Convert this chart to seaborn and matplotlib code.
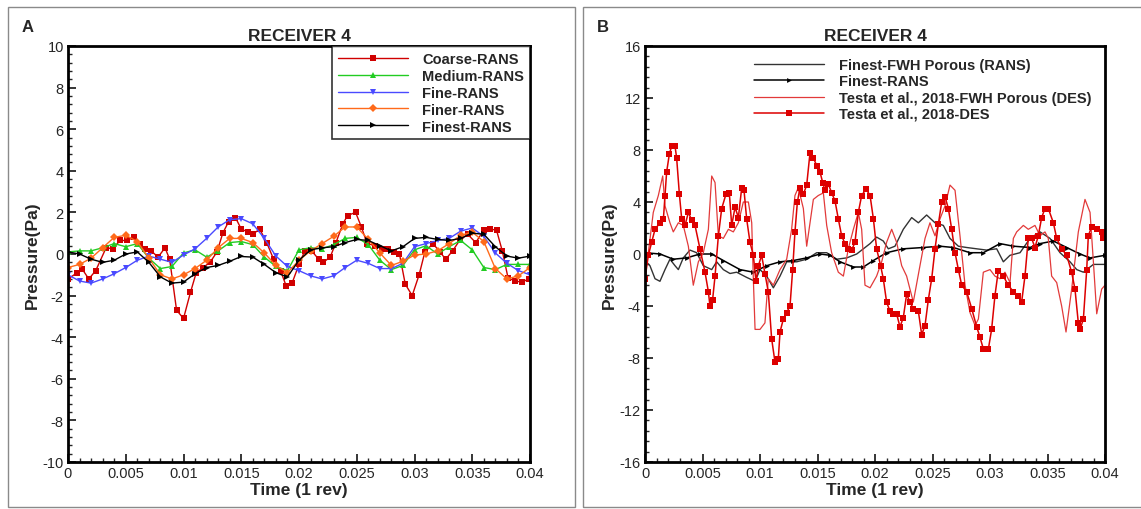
import numpy as np
import pandas as pd
import matplotlib
matplotlib.use("Agg")
import matplotlib.pyplot as plt
import seaborn as sns
from matplotlib.patches import Rectangle
from matplotlib.ticker import MultipleLocator

sns.set_style("ticks")
plt.rcParams['font.family'] = ['Liberation Sans', 'DejaVu Sans']
plt.rcParams['axes.unicode_minus'] = False

# ---------------- Panel A data (time grid in ms, 0..40) ----------------
t_grid_ms = [0, 1, 2, 3, 4, 5, 6, 7, 8, 9, 10, 11, 12, 13, 14, 15, 16, 17, 18, 19, 20,
             21, 22, 23, 24, 25, 26, 27, 28, 29, 30, 31, 32, 33, 34, 35, 36, 37, 38, 39, 40]

t_coarse_ms = [0, 0.8, 1.2, 1.8, 2.4, 3.3, 3.9, 4.5, 5.1, 5.7, 6.2, 6.7, 7.2, 7.8, 8.4, 8.8, 9.4,
               10.0, 10.6, 11.1, 11.7, 12.3, 12.9, 13.4, 13.9, 14.5, 15.0, 15.6, 16.0, 16.6, 17.2,
               17.8, 18.4, 18.9, 19.4, 20.0, 20.5, 21.1, 21.7, 22.1, 22.7, 23.2, 23.8, 24.2, 24.9,
               25.4, 25.9, 26.6, 27.2, 27.7, 28.2, 28.7, 29.2, 29.8, 30.4, 30.9, 31.6, 32.2, 32.7,
               33.3, 33.9, 34.6, 35.3, 36.0, 36.5, 37.1, 37.6, 38.1, 38.7, 39.3, 39.9]
p_coarse = [-1.2, -0.9, -0.7, -1.2, -0.8, 0.3, 0.25, 0.65, 0.65, 0.8, 0.5, 0.25, 0.15, -0.15, 0.3,
            -0.25, -2.7, -3.1, -1.85, -0.9, -0.65, -0.4, 0.1, 1.0, 1.55, 1.75, 1.2, 1.05, 0.95, 1.2,
            0.55, -0.25, -0.8, -1.55, -1.4, -0.5, 0.15, 0.15, -0.25, -0.4, -0.15, 0.55, 1.45, 1.85,
            2.0, 1.3, 0.5, 0.4, 0.25, 0.25, 0.1, 0.0, -1.45, -2.0, -1.0, 0.1, 0.5, 0.1, -0.25, 0.15,
            0.65, 0.95, 0.55, 1.15, 1.2, 1.15, 0.15, -1.15, -1.3, -1.35, -1.2]

p_medium = [0.1, 0.15, 0.15, 0.3, 0.5, 0.35, 0.5, -0.2, -0.7, -0.6, 0.05, 0.2, -0.15, 0.15, 0.55,
            0.6, 0.45, -0.15, -0.6, -0.8, 0.2, 0.3, 0.25, 0.45, 0.75, 0.8, 0.45, -0.3, -0.75, -0.55,
            0.2, 0.4, 0.0, 0.35, 0.65, 0.2, -0.65, -0.75, -0.5, -0.5, -0.5]

p_fine = [-1.0, -1.3, -1.4, -1.2, -0.95, -0.65, -0.3, -0.1, -0.25, -0.4, -0.05, 0.25, 0.75, 1.3,
          1.65, 1.7, 1.45, 0.75, -0.1, -0.6, -0.8, -1.05, -1.2, -1.05, -0.65, -0.3, -0.45, -0.7,
          -0.7, -0.45, 0.35, 0.5, 0.65, 0.75, 1.1, 1.25, 0.85, 0.05, -0.45, -0.8, -1.0]

p_finer = [-0.65, -0.5, -0.2, 0.3, 0.8, 0.9, 0.6, -0.2, -1.0, -1.2, -1.0, -0.7, -0.3, 0.3, 0.75,
           0.75, 0.55, 0.05, -0.55, -0.9, -0.3, 0.15, 0.5, 0.85, 1.3, 1.3, 0.7, 0.05, -0.55, -0.35,
           -0.05, 0.0, 0.15, 0.5, 0.9, 1.05, 0.6, -0.7, -1.2, -1.05, -0.65]

p_finest = [0.1, 0.0, -0.25, -0.4, -0.3, 0.0, 0.1, -0.4, -1.1, -1.4, -1.35, -0.95, -0.65, -0.55,
            -0.35, -0.12, -0.15, -0.5, -0.9, -1.1, -0.3, 0.2, 0.3, 0.35, 0.55, 0.7, 0.65, 0.4, 0.15,
            0.35, 0.75, 0.8, 0.7, 0.65, 0.75, 1.0, 0.95, 0.35, -0.1, -0.2, -0.1]

# ---------------- Panel B data ----------------
t_fwh_rans_ms = [0, 0.43, 0.87, 1.30, 1.74, 2.17, 2.61, 2.90, 3.33, 3.91, 4.49, 5.07, 5.80, 6.23,
                 6.81, 7.39, 7.97, 8.84, 9.57, 10.0, 10.58, 11.16, 11.74, 12.32, 13.19, 14.06,
                 14.93, 15.80, 16.67, 17.54, 18.41, 18.99, 19.57, 20.14, 20.72, 21.16, 21.74,
                 22.46, 23.19, 23.77, 24.49, 25.22, 25.94, 26.52, 27.25, 27.97, 28.84, 29.71,
                 30.58, 31.16, 31.74, 32.61, 33.48, 34.35, 35.22, 36.09, 36.96, 37.54, 38.12,
                 38.99, 40.0]
p_fwh_rans = [-0.5, -0.9, -1.9, -2.1, -1.2, -0.4, -0.9, -1.2, -0.3, 0.3, 0.1, -0.9, -1.2, -0.6,
              -1.2, -1.5, -1.4, -1.8, -2.1, -1.2, -1.7, -2.6, -1.7, -0.6, -0.6, -0.4, 0.1, 0.1,
              -0.4, -0.3, 0.0, 0.4, 0.8, 1.3, 1.0, 0.4, 0.6, 1.9, 2.8, 2.4, 3.0, 2.4, 2.2, 1.2,
              0.6, 0.5, 0.4, 0.3, 0.4, -0.6, -0.1, 0.1, 1.2, 1.7, 1.2, 0.1, -0.6, -1.2, -1.4,
              -0.8, -0.8]

t_rans_b_ms = [0, 1.30, 2.46, 3.62, 4.78, 5.80, 6.81, 8.26, 9.42, 10.58, 11.74, 12.90, 14.06,
               15.22, 16.09, 16.96, 18.12, 18.99, 19.86, 21.01, 22.46, 24.20, 25.65, 26.81,
               28.26, 29.42, 30.87, 32.03, 33.48, 34.35, 35.51, 36.67, 37.83, 38.70, 40.0]
p_rans_b = [0.1, 0.0, -0.4, -0.3, 0.0, 0.0, -0.5, -1.2, -1.4, -0.9, -0.6, -0.5, -0.3, 0.0, -0.1,
            -0.6, -1.0, -1.0, -0.5, 0.1, 0.4, 0.5, 0.6, 0.5, 0.1, 0.1, 0.8, 0.6, 0.5, 0.8, 1.0,
            0.5, 0.0, -0.3, -0.1]

t_fwh_des_ms = [0, 0.29, 0.72, 1.16, 1.54, 1.74, 2.17, 2.46, 2.90, 3.33, 3.77, 4.20, 4.64, 5.07,
                5.51, 5.80, 6.09, 6.38, 6.81, 7.25, 7.68, 8.12, 8.55, 8.99, 9.28, 9.42, 9.57,
                10.0, 10.43, 10.72, 11.16, 11.74, 12.32, 12.75, 13.04, 13.33, 13.77, 14.06,
                14.35, 14.64, 15.07, 15.51, 15.80, 16.23, 16.81, 17.25, 17.68, 18.12, 18.55,
                18.84, 19.13, 19.57, 20.14, 20.58, 21.01, 21.45, 21.88, 22.32, 22.75, 23.33,
                23.91, 24.35, 24.78, 25.22, 25.65, 26.09, 26.52, 26.96, 27.39, 27.83, 28.26,
                28.70, 28.99, 29.42, 30.0, 30.43, 30.87, 31.30, 31.74, 32.03, 32.32, 32.90,
                33.33, 33.91, 34.35, 34.78, 35.07, 35.36, 35.80, 36.23, 36.61, 37.10, 37.68,
                38.26, 38.70, 38.99, 39.28, 39.71, 40.0]
p_fwh_des = [-1.1, 0.1, 3.2, 4.5, 6.0, 3.7, 2.4, 1.7, 2.4, 2.2, 0.6, -2.4, -0.6, 0.1, 1.9, 6.0,
             5.5, 1.4, 1.2, 1.9, 1.7, 2.4, 4.0, 4.0, 2.4, -1.9, -5.8, -5.8, -5.3, -1.9, -2.4,
             -1.2, -0.4, 1.9, 4.5, 5.1, 3.5, 0.6, 2.4, 4.2, 4.5, 4.7, 2.2, 0.1, -1.4, -1.7, 0.4,
             1.9, 3.2, 1.9, -2.4, -2.6, -1.7, -0.6, 0.9, 1.9, 0.9, -0.9, -1.7, -3.7, -0.9, 1.2,
             2.4, 1.4, 2.7, 3.7, 5.3, 4.9, 1.4, -2.4, -4.5, -5.5, -5.0, -1.4, -1.2, -1.7, -1.9,
             -1.4, -2.2, 1.2, 1.7, 2.2, 1.9, 2.2, 1.4, 1.7, 1.2, -1.7, -2.2, -4.0, -6.0, -2.7,
             1.7, 4.2, 3.2, -0.6, -4.6, -2.7, -2.4]

t_des_ms = [0, 0.29, 0.58, 0.87, 1.30, 1.60, 1.74, 1.88, 2.12, 2.32, 2.61, 2.75, 2.99, 3.19,
            3.48, 3.77, 4.06, 4.35, 4.78, 5.22, 5.51, 5.65, 5.88, 6.09, 6.38, 6.67, 7.04, 7.33,
            7.54, 7.83, 8.12, 8.41, 8.61, 8.84, 9.13, 9.42, 9.65, 9.86, 10.14, 10.43, 10.72,
            11.01, 11.30, 11.59, 11.74, 12.03, 12.32, 12.61, 12.84, 13.04, 13.25, 13.48, 13.77,
            14.06, 14.35, 14.64, 14.93, 15.22, 15.45, 15.65, 15.94, 16.23, 16.52, 16.81, 17.10,
            17.39, 17.68, 17.97, 18.26, 18.55, 18.84, 19.22, 19.57, 19.86, 20.14, 20.49, 20.72,
            21.01, 21.30, 21.59, 21.88, 22.17, 22.46, 22.75, 23.04, 23.33, 23.77, 24.06, 24.35,
            24.64, 24.93, 25.22, 25.51, 25.80, 26.09, 26.38, 26.67, 26.96, 27.25, 27.54, 27.97,
            28.41, 28.84, 29.13, 29.42, 29.86, 30.14, 30.43, 30.72, 31.16, 31.59, 32.03, 32.46,
            32.75, 33.04, 33.33, 33.62, 33.91, 34.20, 34.49, 34.78, 35.07, 35.51, 35.80, 36.23,
            36.67, 37.10, 37.39, 37.68, 37.83, 38.12, 38.41, 38.55, 38.84, 39.28, 39.71, 39.86]
p_des = [-1.9, -0.1, 0.9, 1.9, 2.4, 2.7, 4.5, 6.3, 7.7, 8.3, 8.3, 7.4, 4.6, 2.7, 2.2, 3.2, 2.6,
         2.2, 0.4, -1.4, -2.9, -4.0, -3.5, -1.7, 1.4, 3.5, 4.6, 4.7, 2.2, 3.6, 2.8, 5.1, 4.9, 2.7,
         0.9, -0.1, -2.1, -0.9, -0.1, -1.5, -2.9, -6.5, -8.3, -8.1, -6.0, -5.0, -4.5, -4.0, -1.2,
         1.7, 4.0, 5.1, 4.6, 5.3, 7.8, 7.4, 6.8, 6.3, 5.5, 4.9, 5.4, 4.7, 4.1, 2.7, 1.4, 0.8, 0.4,
         0.3, 0.9, 3.2, 4.5, 5.0, 4.5, 2.7, 0.4, -0.9, -1.9, -3.7, -4.4, -4.6, -4.6, -5.6, -4.9,
         -3.1, -3.7, -4.2, -4.4, -6.2, -5.5, -3.5, -1.9, 0.4, 2.3, 4.0, 4.4, 3.5, 1.9, 0.1, -1.2,
         -2.4, -2.9, -4.2, -5.6, -6.4, -7.3, -7.3, -5.8, -3.2, -1.3, -1.7, -2.4, -2.9, -3.2, -3.7,
         -1.7, 1.2, 1.2, 0.5, 1.4, 2.8, 3.5, 3.5, 2.4, 1.2, 0.4, -0.1, -1.4, -2.7, -5.3, -5.8,
         -5.0, -1.2, 1.4, 2.1, 1.9, 1.7, 1.2]


def sec(ms):
    return np.array(ms) / 1000.0


W, H = 1141, 510
fig = plt.figure(figsize=(W / 100, H / 100), dpi=100)

# panel frames
fig.add_artist(Rectangle((8 / W, 2 / H), 567 / W, 500 / H, transform=fig.transFigure,
                         fill=False, edgecolor='#8a8a8a', linewidth=1))
fig.add_artist(Rectangle((583 / W, 2 / H), 600 / W, 500 / H, transform=fig.transFigure,
                         fill=False, edgecolor='#8a8a8a', linewidth=1))
fig.text(22 / W, 1 - 28 / H, 'A', fontsize=12, fontweight='bold', va='center')
fig.text(597 / W, 1 - 28 / H, 'B', fontsize=12, fontweight='bold', va='center')

ax1 = fig.add_axes([68 / W, 47 / H, 462 / W, 416 / H])
ax2 = fig.add_axes([645 / W, 47 / H, 460 / W, 416 / H])

tg = sec(t_grid_ms)
sns.lineplot(x=sec(t_coarse_ms), y=p_coarse, ax=ax1, color='#d00000', lw=1.0, marker='s',
             markersize=4.5, markeredgewidth=0, estimator=None, label='Coarse-RANS')
sns.lineplot(x=tg, y=p_medium, ax=ax1, color='#22cc22', lw=1.0, marker='^',
             markersize=4, markeredgewidth=0, estimator=None, label='Medium-RANS')
sns.lineplot(x=tg, y=p_fine, ax=ax1, color='#4a4aff', lw=1.0, marker='v',
             markersize=4.5, markeredgewidth=0, estimator=None, label='Fine-RANS')
sns.lineplot(x=tg, y=p_finer, ax=ax1, color='#ff6a1a', lw=1.0, marker='D',
             markersize=4, markeredgewidth=0, estimator=None, label='Finer-RANS')
sns.lineplot(x=tg, y=p_finest, ax=ax1, color='black', lw=1.0, marker='>',
             markersize=4.5, markeredgewidth=0, estimator=None, label='Finest-RANS')

sns.lineplot(x=sec(t_fwh_rans_ms), y=p_fwh_rans, ax=ax2, color='#333333', lw=1.0,
             estimator=None, label='Finest-FWH Porous (RANS)')
sns.lineplot(x=sec(t_rans_b_ms), y=p_rans_b, ax=ax2, color='black', lw=1.1, marker='>',
             markersize=3.5, markeredgewidth=0, estimator=None, label='Finest-RANS')
sns.lineplot(x=sec(t_fwh_des_ms), y=p_fwh_des, ax=ax2, color='#e23a3a', lw=0.9,
             estimator=None, label='Testa et al., 2018-FWH Porous (DES)')
sns.lineplot(x=sec(t_des_ms), y=p_des, ax=ax2, color='#dd0000', lw=1.1, marker='s',
             markersize=4.5, markeredgewidth=0, estimator=None, label='Testa et al., 2018-DES')

for ax, ylim, ymaj, ymin in [(ax1, 10, 2, 0.4), (ax2, 16, 4, 0.8)]:
    ax.set_xlim(0, 0.04)
    ax.set_ylim(-ylim, ylim)
    ax.xaxis.set_major_locator(MultipleLocator(0.005))
    ax.xaxis.set_minor_locator(MultipleLocator(0.001))
    ax.yaxis.set_major_locator(MultipleLocator(ymaj))
    ax.yaxis.set_minor_locator(MultipleLocator(ymin))
    ax.xaxis.set_major_formatter(matplotlib.ticker.FuncFormatter(
        lambda v, p: '0' if abs(v) < 1e-9 else ('%g' % round(v, 4))))
    ax.tick_params(which='major', direction='in', length=6, width=1.3, labelsize=10.5, pad=3)
    ax.tick_params(which='minor', direction='in', length=3, width=1)
    for s in ax.spines.values():
        s.set_linewidth(2)
        s.set_color('black')
    ax.set_xlabel('Time (1 rev)', fontsize=12.5, fontweight='bold', labelpad=1)
    ax.set_ylabel('Pressure(Pa)', fontsize=12.5, fontweight='bold', labelpad=2)
    ax.set_title('RECEIVER 4', fontsize=12.5, fontweight='bold', pad=4)

leg1 = ax1.legend(loc='upper right', bbox_to_anchor=(1, 1), borderaxespad=0, frameon=True,
                  fancybox=False, edgecolor='black', handlelength=4.8, handletextpad=1.0,
                  labelspacing=0.2, borderpad=0.4, prop={'weight': 'bold', 'size': 10.5},
                  numpoints=1)
leg1.get_frame().set_linewidth(1.2)

ax2.legend(loc='upper left', bbox_to_anchor=(0.215, 0.995), frameon=False,
           handlelength=4.8, handletextpad=1.0, labelspacing=0.15, borderpad=0.2,
           prop={'weight': 'bold', 'size': 10.5}, numpoints=1)

fig.savefig('out.png', dpi=100)
